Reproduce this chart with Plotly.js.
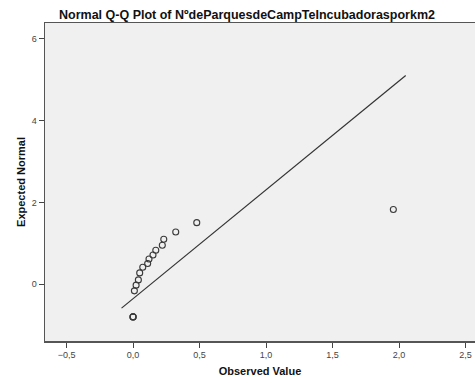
<!DOCTYPE html>
<html>
<head>
<meta charset="utf-8">
<script src="https://cdn.plot.ly/plotly-3.0.1.min.js"></script>
<style>html,body{margin:0;padding:0;background:#fff;}#chart{width:475px;height:383px;}</style>
</head>
<body>
<div id="chart"></div>
<script>
var observed = [0, 0, 0, 0.010, 0.023, 0.040, 0.050, 0.073, 0.110, 0.120, 0.150, 0.171, 0.220, 0.231, 0.321, 0.479, 1.957];
var expected = [-0.80, -0.80, -0.80, -0.163, -0.024, 0.105, 0.276, 0.415, 0.505, 0.617, 0.715, 0.829, 0.951, 1.098, 1.276, 1.505, 1.829];
// Reference line end points
var lineX = [-0.0865, 2.050];
var lineY = [-0.585, 5.105];

var traces = [
  {x: lineX, y: lineY, mode: 'lines', type: 'scatter', line: {color: '#333333', width: 1.2}, hoverinfo: 'skip'},
  {x: observed, y: expected, mode: 'markers', type: 'scatter',
   marker: {symbol: 'circle-open', size: 6, color: '#3a3a3a', line: {width: 1.1, color: '#3a3a3a'}}}
];

var layout = {
  width: 475, height: 383,
  margin: {l: 45, r: 0, t: 23, b: 42},
  paper_bgcolor: '#ffffff',
  plot_bgcolor: '#f0f0f0',
  showlegend: false,
  separators: ',.',
  font: {family: 'Liberation Sans, Arial, sans-serif', color: '#333'},
  title: {text: 'Normal Q-Q Plot of NºdeParquesdeCampTeIncubadorasporkm2',
          font: {size: 12.5, color: '#111', family: 'Liberation Sans, Arial, sans-serif', weight: 'bold'},
          x: 0.52, xanchor: 'center', y: 0.963, yanchor: 'middle'},
  xaxis: {
    range: [-0.662, 2.571], tickvals: [-0.5, 0, 0.5, 1, 1.5, 2, 2.5], tickformat: '.1f',
    showgrid: false, zeroline: false, showline: true, mirror: true, linecolor: '#555', linewidth: 1.5,
    ticks: 'outside', ticklen: 5, tickcolor: '#444', tickfont: {size: 9, color: '#444'},
    title: {text: 'Observed Value', font: {size: 11, color: '#111', weight: 'bold'}, standoff: 8}
  },
  yaxis: {
    range: [-1.39, 6.39], tickvals: [0, 2, 4, 6],
    showgrid: false, zeroline: false, showline: true, mirror: true, linecolor: '#555', linewidth: 1.5,
    ticks: 'outside', ticklen: 5, tickcolor: '#444', tickfont: {size: 9, color: '#444'},
    title: {text: 'Expected Normal', font: {size: 11, color: '#111', weight: 'bold'}, standoff: 4}
  }
};

Plotly.newPlot('chart', traces, layout, {displayModeBar: false, staticPlot: true});
</script>
</body>
</html>
